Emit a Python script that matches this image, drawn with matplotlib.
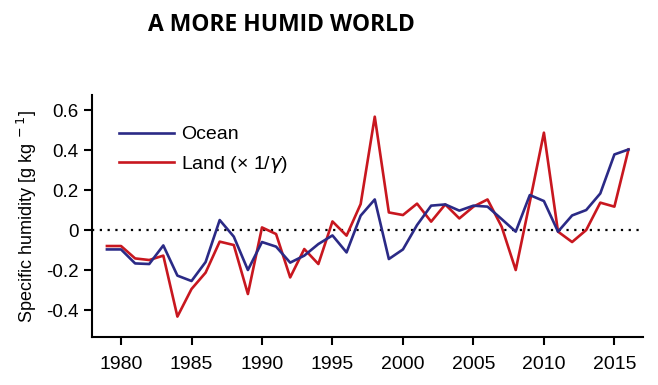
import matplotlib.pyplot as plt

plt.rcParams['font.family'] = ['Liberation Sans', 'DejaVu Sans']

# Annual anomalies
years = list(range(1979, 2017))
ocean = [-0.097, -0.097, -0.167, -0.170, -0.077, -0.228, -0.255, -0.160, 0.050, -0.033,
         -0.200, -0.060, -0.083, -0.163, -0.128, -0.070, -0.027, -0.112, 0.072, 0.153,
         -0.145, -0.097, 0.025, 0.122, 0.128, 0.097, 0.122, 0.117, 0.055, -0.008,
         0.175, 0.145, -0.008, 0.073, 0.100, 0.183, 0.378, 0.403]
land = [-0.080, -0.080, -0.142, -0.150, -0.128, -0.433, -0.295, -0.213, -0.058, -0.075,
        -0.320, 0.013, -0.020, -0.237, -0.095, -0.170, 0.043, -0.028, 0.130, 0.567,
        0.088, 0.075, 0.132, 0.042, 0.128, 0.058, 0.117, 0.153, 0.017, -0.200,
        0.140, 0.487, -0.008, -0.060, 0.000, 0.137, 0.117, 0.403]

xticks = [1980, 1985, 1990, 1995, 2000, 2005, 2010, 2015]
yticks = [-0.4, -0.2, 0, 0.2, 0.4, 0.6]
ytick_labels = ['-0.4', '-0.2', '0', '0.2', '0.4', '0.6']

fig = plt.figure(figsize=(6.58, 3.85), dpi=100)
ax = fig.add_axes([0.1398, 0.1247, 0.8372, 0.6283])

ax.axhline(0, color='black', linestyle=(0, (1, 2.5)), linewidth=1.6, zorder=1)
ax.plot(years, ocean, color='#2b2a86', linewidth=1.9, label='Ocean', zorder=3)
ax.plot(years, land, color='#c8171f', linewidth=1.9, label=r'Land (× 1/$\gamma$)', zorder=2)

ax.set_xlim(1977.94, 2017.02)
ax.set_ylim(-0.535, 0.675)
ax.set_xticks(xticks)
ax.set_yticks(yticks)
ax.set_yticklabels(ytick_labels)
ax.tick_params(labelsize=13.5, width=1.5, length=6, direction='out')
ax.tick_params(axis='x', labelsize=14, pad=8)
ax.spines['top'].set_visible(False)
ax.spines['right'].set_visible(False)
ax.spines['left'].set_linewidth(1.5)
ax.spines['bottom'].set_linewidth(1.5)

ax.set_ylabel(r'Specific humidity [g kg$^{\ -1}$]', fontsize=13, labelpad=5)

ax.legend(loc='upper left', frameon=False, fontsize=14, handlelength=2.85,
          handletextpad=0.35, borderaxespad=0.0, labelspacing=0.55,
          bbox_to_anchor=(0.035, 0.905))

fig.text(281 / 658, 1 - 25 / 385, 'A MORE HUMID WORLD', ha='center', va='center',
         fontsize=16.5, fontweight='bold', family='Open Sans')

fig.savefig('out.png', dpi=100)
